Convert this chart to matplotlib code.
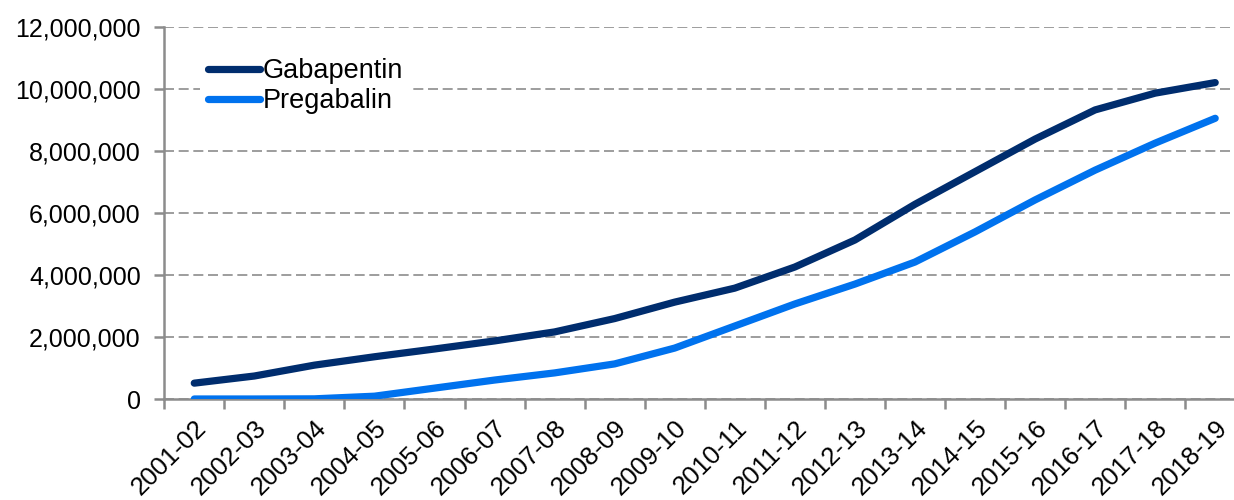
import numpy as np
import matplotlib.pyplot as plt
from matplotlib.ticker import FuncFormatter, FixedLocator

years = ['2001-02', '2002-03', '2003-04', '2004-05', '2005-06', '2006-07',
         '2007-08', '2008-09', '2009-10', '2010-11', '2011-12', '2012-13',
         '2013-14', '2014-15', '2015-16', '2016-17', '2017-18', '2018-19']
gabapentin = [520000, 750000, 1100000, 1370000, 1620000, 1880000,
              2170000, 2600000, 3130000, 3580000, 4260000, 5130000,
              6280000, 7330000, 8380000, 9320000, 9860000, 10200000]
pregabalin = [10000, 10000, 15000, 100000, 360000, 620000,
              850000, 1140000, 1650000, 2360000, 3070000, 3710000,
              4420000, 5390000, 6420000, 7380000, 8250000, 9050000]

plt.rcParams['font.family'] = ['Liberation Sans', 'DejaVu Sans']

fig = plt.figure(figsize=(12.34, 5), dpi=100)
# right edge of the plot area is cut by the image, as in the original
ax = fig.add_axes([0.1331, 0.2014, 0.876, 0.7452])

x = np.arange(len(years))
ax.plot(x, gabapentin, color='#002D6E', lw=5.2, solid_capstyle='round',
        solid_joinstyle='round', label='Gabapentin', zorder=3)
ax.plot(x, pregabalin, color='#0072EE', lw=5.2, solid_capstyle='round',
        solid_joinstyle='round', label='Pregabalin', zorder=3)

ax.set_xlim(-0.5, len(years) - 0.5)
ax.set_ylim(0, 12000000)
ax.set_yticks(np.arange(0, 12000001, 2000000))
ax.yaxis.set_major_formatter(FuncFormatter(lambda v, p: f'{int(v):,}'))

# category boundaries get tick marks, centres get the labels
ax.xaxis.set_major_locator(FixedLocator(np.arange(-0.5, len(years), 1.0)))
ax.xaxis.set_minor_locator(FixedLocator(x))
ax.set_xticklabels([], minor=False)
ax.set_xticklabels(years, minor=True, rotation=45, ha='right', va='top',
                   rotation_mode='anchor', fontsize=18.5)
ax.tick_params(axis='x', which='major', length=7, width=1.8, color='#8c8c8c')
ax.tick_params(axis='x', which='minor', length=0, pad=12)
ax.tick_params(axis='y', length=7, width=1.8, color='#8c8c8c',
               labelsize=18, pad=10)

ax.grid(axis='y', color='#8c8c8c', linestyle=(0, (6, 2.8)), lw=1.2)
ax.set_axisbelow(True)
for s in ['top', 'right']:
    ax.spines[s].set_visible(False)
for s in ['left', 'bottom']:
    ax.spines[s].set_color('#8c8c8c')
    ax.spines[s].set_linewidth(1.8)

leg = ax.legend(loc='upper left', bbox_to_anchor=(0.033, 0.937), frameon=True,
                fontsize=19.5, handlelength=1.9, handletextpad=0.12,
                labelspacing=0.15, borderpad=0.3, borderaxespad=0)
leg.get_frame().set_edgecolor('none')
leg.get_frame().set_facecolor('white')
leg.get_frame().set_alpha(1)

fig.savefig('out.png', dpi=100)
